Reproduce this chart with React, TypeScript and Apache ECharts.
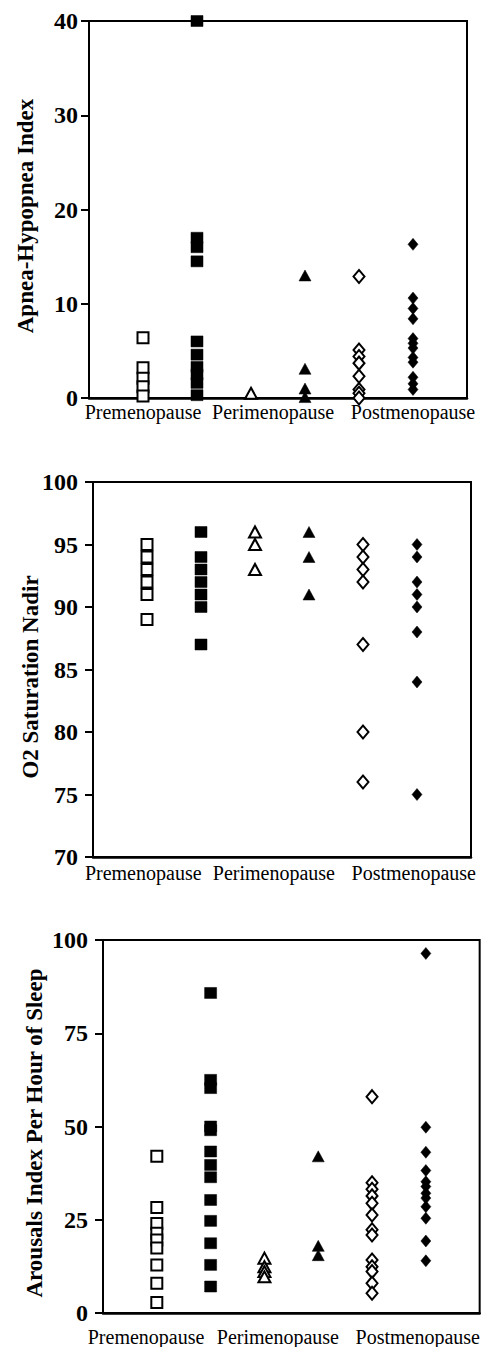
import React, { useEffect, useRef } from "react";
import * as echarts from "echarts";

// Category labels under each panel
const STAGE_LABELS = ["Premenopause", "Perimenopause", "Postmenopause"];
// Column positions of the six groups (open/filled per stage)
const COLUMNS = [1, 2, 3, 4, 5, 6];

// Panel 1: Apnea-Hypopnea Index
const ahiPreOpen = [6.4, 3.2, 2.1, 1.2, 0.2];
const ahiPreFilled = [40, 17, 16, 14.5, 6, 4.6, 3.3, 2.5, 1.6, 0.3];
const ahiPeriOpen = [0.5];
const ahiPeriFilled = [13, 3.1, 1.0, 0.1];
const ahiPostOpen = [12.9, 5.1, 4.4, 3.7, 2.3, 0.9, 0.5, 0];
const ahiPostFilled = [16.3, 10.6, 9.5, 8.4, 6.3, 5.8, 5.3, 4.3, 3.8, 2.2, 1.5, 0.9];

// Panel 2: O2 Saturation Nadir
const o2PreOpen = [95, 94, 93, 92, 91, 89];
const o2PreFilled = [96, 94, 93, 92, 91, 90, 87];
const o2PeriOpen = [96, 95, 93];
const o2PeriFilled = [96, 94, 91];
const o2PostOpen = [95, 94, 93, 92, 87, 80, 76];
const o2PostFilled = [95, 94, 92, 91, 90, 88, 84, 75];

// Panel 3: Arousals Index Per Hour of Sleep
const aroPreOpen = [42, 28.3, 24, 21.4, 19.6, 17.4, 12.9, 8, 2.8];
const aroPreFilled = [85.8, 62.5, 60.3, 50, 49, 43.3, 39.7, 36.4, 30.3, 24.7, 18.7, 12.9, 7.1];
const aroPeriOpen = [14.7, 12.4, 11.1, 9.7];
const aroPeriFilled = [42, 18, 15.5];
const aroPostOpen = [58, 34.9, 33.2, 31.4, 29.4, 26.3, 22.3, 20.9, 14.2, 12.4, 11.1, 8.0, 5.3];
const aroPostFilled = [96.4, 49.8, 43.1, 38.2, 35.2, 33.9, 32.1, 30.8, 28.5, 25.4, 19.3, 14.0];

// Y axis ranges / ticks
const Y1 = { min: 0, max: 40, interval: 10, title: "Apnea-Hypopnea Index" };
const Y2 = { min: 70, max: 100, interval: 5, title: "O2 Saturation Nadir" };
const Y3 = { min: 0, max: 100, interval: 25, title: "Arousals Index Per Hour of Sleep" };

const FONT = '"Liberation Serif", "Times New Roman", Times, serif';

type Style = { symbol: string; size: number[]; filled: boolean };
const STYLES: Style[] = [
  { symbol: "rect", size: [11, 11], filled: false },
  { symbol: "rect", size: [12, 11], filled: true },
  { symbol: "triangle", size: [12, 11], filled: false },
  { symbol: "triangle", size: [12, 11], filled: true },
  { symbol: "diamond", size: [11, 13], filled: false },
  { symbol: "diamond", size: [10, 12], filled: true },
];

export default function App() {
  const ref = useRef<HTMLDivElement>(null);
  useEffect(() => {
    if (!ref.current) return;
    const chart = echarts.init(ref.current, undefined, { renderer: "svg" });

    const grids = [
      { left: 89, top: 21, width: 378, height: 377 },
      { left: 93, top: 482, width: 378, height: 375 },
      { left: 103, top: 940, width: 379, height: 373 },
    ];
    const labelPos = [
      [1.0, 3.41, 6.0],
      [0.93, 3.35, 5.94],
      [0.8, 3.25, 5.85],
    ];
    const labelMargin = [4, 6, 14];
    const yMargin = [11, 15, 15];
    const yCfg = [Y1, Y2, Y3];
    const panels = [
      [ahiPreOpen, ahiPreFilled, ahiPeriOpen, ahiPeriFilled, ahiPostOpen, ahiPostFilled],
      [o2PreOpen, o2PreFilled, o2PeriOpen, o2PeriFilled, o2PostOpen, o2PostFilled],
      [aroPreOpen, aroPreFilled, aroPeriOpen, aroPeriFilled, aroPostOpen, aroPostFilled],
    ];
    const titlePos = [
      [25, 216],
      [30, 677],
      [34, 1133],
    ];

    const xAxis = grids.map((_, i) => ({
      type: "value",
      gridIndex: i,
      min: 0,
      max: 7,
      splitLine: { show: false },
      axisTick: { show: false },
      axisLine: { show: true, lineStyle: { color: "#000", width: 2.5 } },
      axisLabel: {
        customValues: labelPos[i],
        margin: labelMargin[i],
        color: "#000",
        fontFamily: FONT,
        fontSize: 20,
        formatter: (v: number) => {
          let best = 0;
          labelPos[i].forEach((p, k) => {
            if (Math.abs(p - v) < Math.abs(labelPos[i][best] - v)) best = k;
          });
          return STAGE_LABELS[best];
        },
      },
    }));

    const yAxis = grids.map((_, i) => ({
      type: "value",
      gridIndex: i,
      min: yCfg[i].min,
      max: yCfg[i].max,
      interval: yCfg[i].interval,
      splitLine: { show: false },
      axisLine: { show: true, lineStyle: { color: "#000", width: 2 } },
      axisTick: { show: true, length: 8, lineStyle: { color: "#000", width: 2 } },
      axisLabel: {
        margin: yMargin[i],
        color: "#000",
        fontFamily: FONT,
        fontWeight: "bold",
        fontSize: 24,
      },
    }));

    const series: any[] = [];
    panels.forEach((groups, pi) => {
      groups.forEach((vals, gi) => {
        const st = STYLES[gi];
        series.push({
          type: "scatter",
          xAxisIndex: pi,
          yAxisIndex: pi,
          symbol: st.symbol,
          symbolSize: st.size,
          data: vals.map((v) => [COLUMNS[gi], v]),
          itemStyle: st.filled
            ? { color: "#000", borderColor: "#000", borderWidth: 0.5, opacity: 1 }
            : { color: "#fff", borderColor: "#000", borderWidth: 2, opacity: 1 },
          emphasis: { disabled: true },
          z: 3,
        });
      });
    });

    const graphic = yCfg.map((c, i) => ({
      type: "text",
      x: titlePos[i][0],
      y: titlePos[i][1],
      rotation: Math.PI / 2,
      style: {
        text: c.title,
        fill: "#000",
        font: `bold 23px ${FONT}`,
        textAlign: "center",
        textVerticalAlign: "middle",
      },
    }));

    chart.setOption({
      animation: false,
      backgroundColor: "#fff",
      grid: grids.map((g) => ({
        ...g,
        show: true,
        borderColor: "#000",
        borderWidth: 2,
        backgroundColor: "transparent",
        containLabel: false,
      })),
      xAxis,
      yAxis,
      series,
      graphic,
    });
    return () => chart.dispose();
  }, []);

  return (
    <div
      ref={ref}
      style={{ position: "absolute", left: 0, top: 0, width: 483, height: 1347, background: "#fff" }}
    />
  );
}
